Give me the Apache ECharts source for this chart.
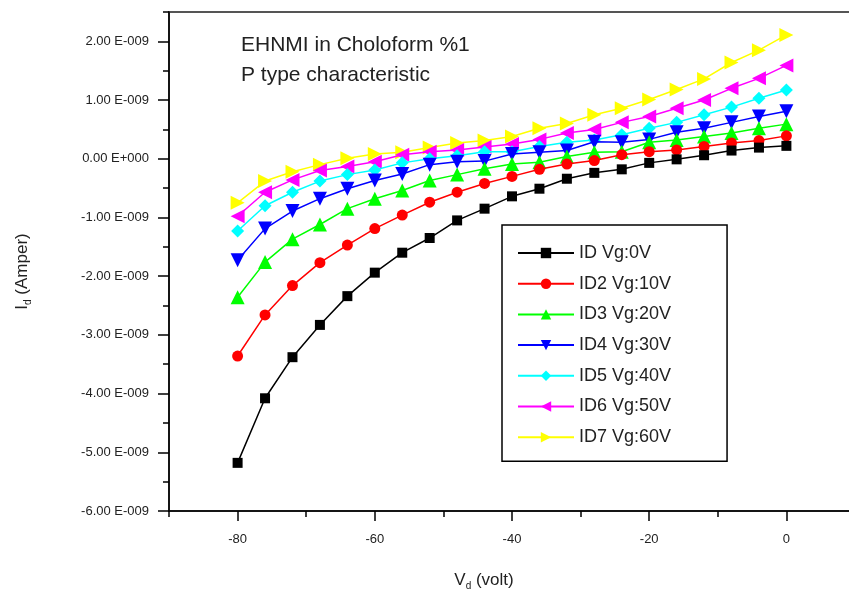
<!DOCTYPE html>
<html><head><meta charset="utf-8">
<script src="https://cdn.jsdelivr.net/npm/echarts@6/dist/echarts.min.js"></script>
<style>html,body{margin:0;padding:0;background:#fff;overflow:hidden}#c{width:855px;height:596px}</style>
</head><body><div id="c"></div>
<script>
// Drain voltage (volt)
const vd = [-80,-76,-72,-68,-64,-60,-56,-52,-48,-44,-40,-36,-32,-28,-24,-20,-16,-12,-8,-4,0];
// Drain current in units of 1E-009 A
const idVg0  = [-5.18,-4.08,-3.38,-2.83,-2.34,-1.94,-1.60,-1.35,-1.05,-0.85,-0.64,-0.51,-0.34,-0.24,-0.18,-0.07,-0.01,0.06,0.14,0.19,0.22];
const idVg10 = [-3.36,-2.66,-2.16,-1.77,-1.47,-1.19,-0.96,-0.74,-0.57,-0.42,-0.30,-0.18,-0.09,-0.03,0.07,0.12,0.15,0.21,0.27,0.31,0.39];
const idVg20 = [-2.36,-1.76,-1.37,-1.12,-0.85,-0.68,-0.54,-0.37,-0.27,-0.17,-0.09,-0.06,0.04,0.11,0.12,0.28,0.32,0.38,0.44,0.52,0.59];
const idVg30 = [-1.73,-1.19,-0.89,-0.68,-0.51,-0.37,-0.26,-0.10,-0.05,-0.04,0.08,0.11,0.14,0.29,0.28,0.33,0.45,0.52,0.62,0.72,0.81];
const idVg40 = [-1.23,-0.80,-0.57,-0.38,-0.27,-0.19,-0.07,0.00,0.05,0.12,0.12,0.21,0.28,0.32,0.41,0.52,0.62,0.75,0.88,1.03,1.17];
const idVg50 = [-0.98,-0.57,-0.36,-0.20,-0.13,-0.05,0.07,0.12,0.15,0.20,0.25,0.33,0.44,0.50,0.62,0.72,0.86,1.00,1.20,1.37,1.59];
const idVg60 = [-0.75,-0.38,-0.22,-0.10,0.01,0.08,0.11,0.19,0.27,0.31,0.38,0.52,0.60,0.75,0.86,1.01,1.18,1.36,1.64,1.85,2.11];

const seriesNames = ['ID Vg:0V','ID2 Vg:10V','ID3 Vg:20V','ID4 Vg:30V','ID5 Vg:40V','ID6 Vg:50V','ID7 Vg:60V'];
const seriesColors = ['#000000','#ff0000','#00ff00','#0000ff','#00ffff','#ff00ff','#ffff00'];

// Tick labels
const xTickLabels = ['-90','-80','-70','-60','-50','-40','-30','-20','-10','0','10'];
const yTickLabels = ['-6.00 E-009','','-5.00 E-009','','-4.00 E-009','','-3.00 E-009','','-2.00 E-009','','-1.00 E-009','','0.00 E+000','','1.00 E-009','','2.00 E-009',''];

const annotation1 = 'EHNMI in Choloform %1';
const annotation2 = 'P type characteristic';

const FONT = '"Liberation Sans", Arial, sans-serif';
const allData = [idVg0, idVg10, idVg20, idVg30, idVg40, idVg50, idVg60];
const symbols = [['rect',10,0],['circle',11,0],['triangle',14,0],['triangle',14,180],['diamond',13,0],['triangle',14,90],['triangle',14,-90]];

const chart = echarts.init(document.getElementById('c'), null, {renderer:'canvas'});
const showX = (i, v) => Number(v) % 20 === 0;
const showY = (i, v) => v !== '';
chart.setOption({
  animation: false,
  backgroundColor: '#ffffff',
  grid: {left: 169, top: 12, right: 0, bottom: 83, show: true, borderColor: '#555', borderWidth: 2},
  xAxis: [
    {type: 'value', min: -90, max: 10, interval: 10, position: 'bottom',
     axisLine: {show: true, onZero: false, lineStyle: {color: '#000', width: 1.5}},
     axisTick: {show: true, length: 6, lineStyle: {color: '#000', width: 1.5}},
     axisLabel: {show: false}, splitLine: {show: false},
     name: '{a|V}{sub|d}{a| (volt)}', nameLocation: 'middle', nameGap: 58,
     nameTextStyle: {padding: [0, 56, 0, 0], rich: {
       a: {fontSize: 17, fontFamily: FONT, color: '#222'},
       sub: {fontSize: 10, fontFamily: FONT, color: '#222', padding: [12, 0, 0, 0]}}}},
    {type: 'category', data: xTickLabels, boundaryGap: false, position: 'bottom',
     axisLine: {show: false, onZero: false},
     axisTick: {show: true, length: 10, interval: showX, lineStyle: {color: '#000', width: 1.5}},
     axisLabel: {show: true, interval: showX, margin: 22, fontSize: 13, fontFamily: FONT, color: '#222'},
     splitLine: {show: false}}
  ],
  yAxis: [
    {type: 'value', min: -6, max: 2.5, interval: 0.5, position: 'left',
     axisLine: {show: true, onZero: false, lineStyle: {color: '#000', width: 1.5}},
     axisTick: {show: true, length: 6, lineStyle: {color: '#000', width: 1.5}},
     axisLabel: {show: false}, splitLine: {show: false},
     name: '{a|I}{sub|d}{a| (Amper)}', nameLocation: 'middle', nameGap: 136, nameRotate: 90,
     nameTextStyle: {padding: [0, 20, 0, 0], rich: {
       a: {fontSize: 17, fontFamily: FONT, color: '#222'},
       sub: {fontSize: 10, fontFamily: FONT, color: '#222', padding: [12, 0, 0, 0]}}}},
    {type: 'category', data: yTickLabels, boundaryGap: false, position: 'left',
     axisLine: {show: false, onZero: false},
     axisTick: {show: true, length: 11, interval: showY, lineStyle: {color: '#000', width: 1.5}},
     axisLabel: {show: true, interval: showY, margin: 20, fontSize: 13, fontFamily: FONT, color: '#222'},
     splitLine: {show: false}}
  ],
  legend: {
    data: seriesNames, orient: 'vertical', left: 502, top: 225,
    padding: [18, 56, 14, 15], itemWidth: 56, itemHeight: 13, itemGap: 10.7,
    borderColor: '#000', borderWidth: 1.5, backgroundColor: '#fff',
    textStyle: {fontSize: 18, lineHeight: 20, fontFamily: FONT, color: '#222'}
  },
  graphic: [
    {type: 'text', left: 241, top: 35, style: {text: annotation1, fontSize: 21, fontFamily: FONT, fill: '#222'}},
    {type: 'text', left: 241, top: 65, style: {text: annotation2, fontSize: 21, fontFamily: FONT, fill: '#222'}}
  ],
  series: allData.map((arr, k) => ({
    name: seriesNames[k], type: 'line', xAxisIndex: 0, yAxisIndex: 0,
    data: vd.map((x, i) => [x, arr[i]]),
    symbol: symbols[k][0], symbolSize: symbols[k][1], symbolRotate: symbols[k][2],
    itemStyle: {color: seriesColors[k]},
    lineStyle: {color: seriesColors[k], width: 1.5},
    z: 10 - k
  }))
});
</script></body></html>
